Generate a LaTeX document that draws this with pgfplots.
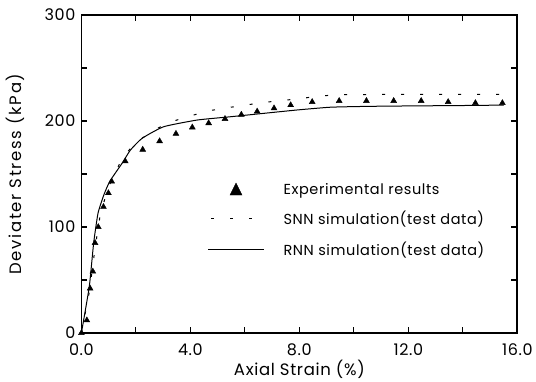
\documentclass[border=0pt]{standalone}
\usepackage{fontspec}
\setmainfont{Poppins}
\newfontfamily\ylabfont{Poppins}[LetterSpace=10]
\newfontfamily\labfont{Poppins}[LetterSpace=4]
\usepackage{pgfplots}
\pgfplotsset{compat=1.18}
\pgfplotstableread{
x y
0 0
0.20 12
0.32 42
0.42 58
0.50 85
0.62 100
0.81 119
0.99 132
1.11 143
1.61 162
2.25 173
2.87 181
3.47 188
4.07 194
4.67 198
5.27 202
5.87 206
6.45 209
7.07 212
7.68 215
8.47 218
9.46 219
10.46 219
11.46 219
12.47 219
13.46 218
14.46 217
15.45 217
}\expdata
\pgfplotstableread{
x y
0 0
0.30 40
0.50 80
0.70 113
1.00 138
1.50 165
2.00 180
2.78 193
3.39 200
4.03 205
4.67 209.6
5.35 212.5
6.02 215
6.69 217.5
7.37 219.3
8.04 221.2
8.71 223.4
9.40 224.8
10.5 225
12.0 225
14.0 225
15.5 225
}\snndata
\pgfplotstableread{
x y
0 0
0.29 44
0.45 85
0.61 113
0.82 130
1.04 143
1.49 160
1.80 172.6
2.23 183.7
3.02 194.6
4.25 200.9
5.47 204
6.69 207.2
7.92 210.4
9.14 213
10.5 213.8
12.0 214.2
14.0 214.6
15.5 215
}\rnndata
\begin{document}
\begin{tikzpicture}
\begin{axis}[
  scale only axis, width=436pt, height=318pt,
  xmin=0, xmax=16, ymin=0, ymax=300,
  xtick={0,4,8,12,16}, minor xtick={2,6,10,14},
  ytick={0,100,200,300}, minor ytick={50,150,250},
  tick pos=both, tick align=inside,
  major tick length=6pt, minor tick length=6pt,
  every tick/.style={line width=1.2pt, black},
  axis line style={line width=1.8pt},
  /pgf/number format/assume math mode=true,
  tick label style={font=\labfont\fontsize{16}{18}\selectfont},
  yticklabel style={xshift=-2.5pt},
  xticklabel style={yshift=-7pt, /pgf/number format/.cd, fixed, fixed zerofill, precision=1},
  xlabel={Axial Strain (\%)}, ylabel={Deviater Stress (kPa)},
  xlabel style={font=\labfont\fontsize{16.5}{18}\selectfont, at={(axis description cs:0.5,-0.114)}, anchor=center},
  ylabel style={font=\ylabfont\fontsize{16.5}{18}\selectfont, at={(axis description cs:-0.151,0.5)}, anchor=center},
  legend cell align=left,
  legend style={draw=none, fill=none, at={(rel axis cs:0.282,0.484)}, anchor=north west,
    font=\labfont\fontsize{14.5}{16}\selectfont, row sep=11.5pt},
  /tikz/every odd column/.append style={column sep=17pt},
]
\addplot[only marks, mark=triangle*, mark size=3.4pt, black,
  legend image code/.code={\fill[black] (22pt,-5.5pt) -- (34pt,-5.5pt) -- (28pt,6.5pt) -- cycle;}]
  table[x=x,y=y] {\expdata};
\addlegendentry{Experimental results}
\addplot[black, line width=1pt, dash pattern=on 3pt off 16pt,
  legend image code/.code={\draw[line width=1pt, dash pattern=on 3pt off 16pt] (3pt,0) -- (56pt,0);}]
  table[x=x,y=y] {\snndata};
\addlegendentry{SNN simulation(test data)}
\addplot[black, line width=1pt, smooth, tension=0.3,
  legend image code/.code={\draw[line width=1pt] (0pt,0) -- (56pt,0);}]
  table[x=x,y=y] {\rnndata};
\addlegendentry{RNN simulation(test data)}
\end{axis}
\path ([yshift=15pt]current axis.north);
\path ([xshift=-3pt]current axis.outer west);
\end{tikzpicture}
\end{document}
